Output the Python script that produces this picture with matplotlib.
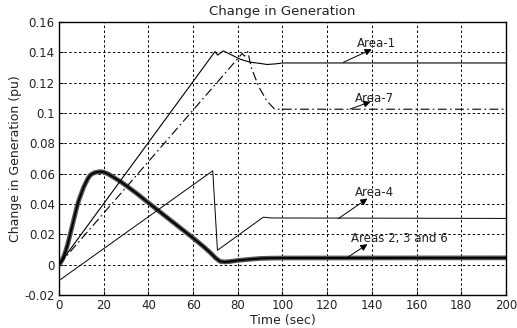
import matplotlib
matplotlib.use("Agg")
import matplotlib.pyplot as plt

plt.rcParams['font.family'] = ['DejaVu Sans']

# Area-1 (thin solid)
t_a1 = [0, 69.8, 71, 73.5, 81, 85.5, 90, 93, 97, 100, 200]
g_a1 = [0, 0.1405, 0.1382, 0.141, 0.1355, 0.1335, 0.1327, 0.1320, 0.1324, 0.1330, 0.1330]

# Area-7 (dash-dot)
t_a7 = [0, 82, 83, 84.5, 86, 89.5, 93, 96.5, 200]
g_a7 = [0, 0.1393, 0.1375, 0.1405, 0.130, 0.117, 0.108, 0.1025, 0.1025]

# Area-4 (thin solid)
t_a4 = [0, 68.8, 70.9, 91.4, 95, 200]
g_a4 = [-0.0105, 0.0619, 0.0095, 0.0313, 0.0308, 0.0305]

# Areas 2, 3 and 6 (heavy, overlapping)
t_a236 = [0, 1, 2, 3, 4, 5, 6, 7, 8, 9, 10, 11, 12, 13, 14, 15, 16, 17, 18, 19, 20,
          22, 24, 26, 28, 30, 35, 40, 45, 50, 55, 60, 65, 68, 70, 72, 74, 76, 80,
          85, 90, 95, 100, 200]
g_a236 = [0, 0.002, 0.005, 0.009, 0.014, 0.020, 0.026, 0.032, 0.038, 0.043, 0.047,
          0.051, 0.054, 0.057, 0.059, 0.060, 0.0607, 0.061, 0.0613, 0.0613, 0.061,
          0.0598, 0.058, 0.0562, 0.0543, 0.0522, 0.0467, 0.0408, 0.035, 0.0292,
          0.0234, 0.0176, 0.0115, 0.0075, 0.0045, 0.0022, 0.0018, 0.0020, 0.0028,
          0.0035, 0.0041, 0.0043, 0.0044, 0.0045]

xticks = [0, 20, 40, 60, 80, 100, 120, 140, 160, 180, 200]
yticks = [-0.02, 0, 0.02, 0.04, 0.06, 0.08, 0.1, 0.12, 0.14, 0.16]
ytick_labels = ['-0.02', '0', '0.02', '0.04', '0.06', '0.08', '0.1', '0.12', '0.14', '0.16']

fig = plt.figure(figsize=(5.17, 3.28), dpi=100)
ax = fig.add_axes([0.1141, 0.1006, 0.8646, 0.8323])

ax.plot(t_a236, g_a236, color='#555555', lw=3.4, solid_capstyle='round')
ax.plot(t_a236, g_a236, color='black', lw=1.4)
ax.plot(t_a1, g_a1, color='black', lw=0.8)
ax.plot(t_a7, g_a7, color='black', lw=0.8, linestyle=(0, (8, 3, 1.5, 3)))
ax.plot(t_a4, g_a4, color='black', lw=0.7)

ax.set_xlim(0, 200)
ax.set_ylim(-0.02, 0.16)
ax.set_xticks(xticks)
ax.set_yticks(yticks)
ax.set_yticklabels(ytick_labels)
ax.tick_params(direction='in', labelsize=8.5, length=3, width=0.8, pad=3,
               labelcolor='#222222')
ax.grid(True, color='black', linestyle=(0, (2.5, 2.5)), lw=0.7)
for s in ax.spines.values():
    s.set_linewidth(1.0)

ax.set_title('Change in Generation', fontsize=9.5, pad=5, color='#222222')
ax.set_xlabel('Time (sec)', fontsize=9, labelpad=1, color='#222222')
ax.set_ylabel('Change in Generation (pu)', fontsize=9, labelpad=2, color='#222222')

arrow = dict(arrowstyle='-|>', color='black', lw=0.7, mutation_scale=10,
             shrinkA=0, shrinkB=0)
labels = [
    ('Area-1', (133.5, 0.146), (127.2, 0.1334), (139.9, 0.142)),
    ('Area-7', (132.5, 0.1096), (130.2, 0.1026), (139.4, 0.1074)),
    ('Area-4', (132.5, 0.0476), (125.0, 0.0304), (138.0, 0.0436)),
    ('Areas 2, 3 and 6', (130.6, 0.0172), (128.7, 0.0044), (138.0, 0.0135)),
]
for text, pos, tail, head in labels:
    ax.annotate('', xy=head, xytext=tail, arrowprops=arrow)
    ax.text(pos[0], pos[1], text, fontsize=8.5, ha='left', va='center',
            color='#222222')

fig.savefig('out.png', dpi=100)
